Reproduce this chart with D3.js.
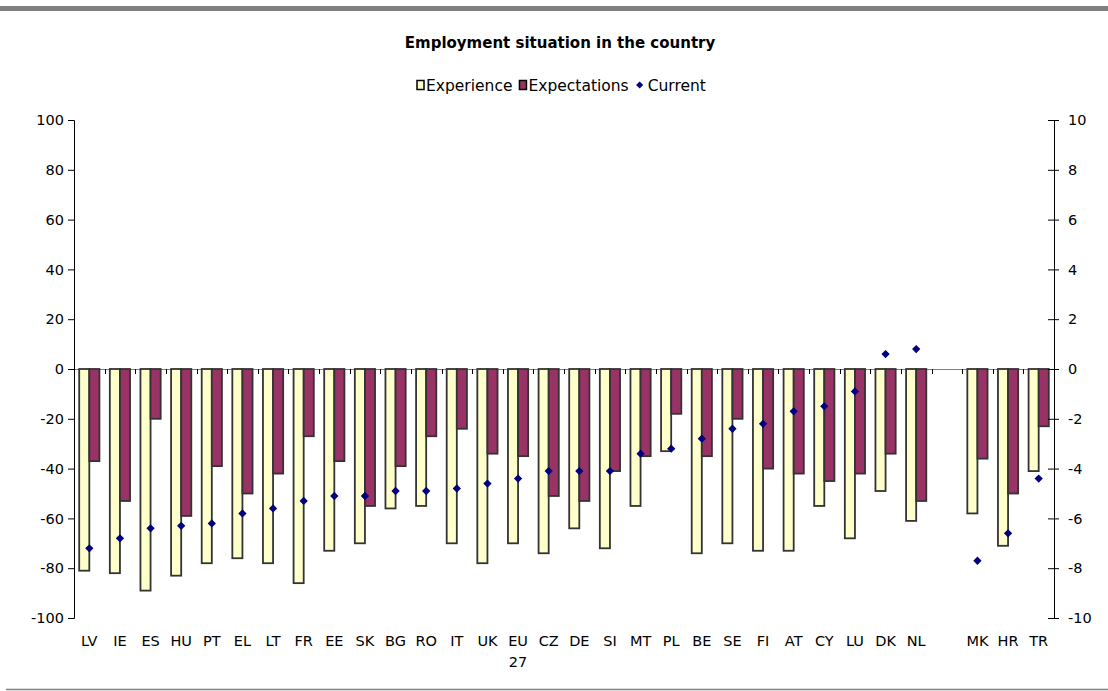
<!DOCTYPE html>
<html>
<head>
<meta charset="utf-8">
<script src="https://cdn.jsdelivr.net/npm/d3@7"></script>
<style>
  body { margin: 0; background: #fff; }
  text { font-family: "DejaVu Sans", Verdana, sans-serif; }
</style>
</head>
<body>
<div id="chart"></div>
<script>
var countries = ["LV","IE","ES","HU","PT","EL","LT","FR","EE","SK","BG","RO","IT","UK","EU27","CZ","DE","SI","MT","PL","BE","SE","FI","AT","CY","LU","DK","NL","","MK","HR","TR"];
var experience = [-81,-82,-89,-83,-78,-76,-78,-86,-73,-70,-56,-55,-70,-78,-70,-74,-64,-72,-55,-33,-74,-70,-73,-73,-55,-68,-49,-61,null,-58,-71,-41];
var expectations = [-37,-53,-20,-59,-39,-50,-42,-27,-37,-55,-39,-27,-24,-34,-35,-51,-53,-41,-35,-18,-35,-20,-40,-42,-45,-42,-34,-53,null,-36,-50,-23];
var current = [-7.2,-6.8,-6.4,-6.3,-6.2,-5.8,-5.6,-5.3,-5.1,-5.1,-4.9,-4.9,-4.8,-4.6,-4.4,-4.1,-4.1,-4.1,-3.4,-3.2,-2.8,-2.4,-2.2,-1.7,-1.5,-0.9,0.6,0.8,null,-7.7,-6.6,-4.4];
var leftTicks = [-100,-80,-60,-40,-20,0,20,40,60,80,100];
var rightTicks = [-10,-8,-6,-4,-2,0,2,4,6,8,10];

var width = 1108, height = 691;
var margin = {left: 74, right: 54, top: 120, bottom: 73};
var fs = "14.5px";

var svg = d3.select("#chart").append("svg").attr("width", width).attr("height", height);

// frame lines
svg.append("rect").attr("x", 0).attr("y", 6).attr("width", width).attr("height", 5).attr("fill", "#808080");
svg.append("line").attr("x1", 6).attr("x2", width).attr("y1", 689.5).attr("y2", 689.5)
    .attr("stroke", "#808080").attr("stroke-width", 1.5);

svg.append("text").attr("x", 560).attr("y", 48).attr("text-anchor", "middle")
    .style("font-size", "15px").style("font-weight", "bold").text("Employment situation in the country");

var x = d3.scaleBand().domain(d3.range(countries.length)).range([margin.left, width - margin.right]).paddingInner(0).paddingOuter(0);
var y = d3.scaleLinear().domain([-100, 100]).range([height - margin.bottom, margin.top]);
var y2 = d3.scaleLinear().domain([-10, 10]).range([height - margin.bottom, margin.top]);

var bw = x.bandwidth() * 0.33;
var hyphen = function(d) { return String(d); };

// zero line
svg.append("line").attr("x1", margin.left).attr("x2", width - margin.right)
    .attr("y1", Math.round(y(0)) + 0.5).attr("y2", Math.round(y(0)) + 0.5).attr("stroke", "#808080");
// category ticks
svg.append("g").selectAll("line").data(d3.range(1, countries.length))
  .enter().append("line")
    .attr("x1", function(d) { return Math.round(x(d)) + 0.5; })
    .attr("x2", function(d) { return Math.round(x(d)) + 0.5; })
    .attr("y1", y(0)).attr("y2", y(0) + 5).attr("stroke", "#000");

// bars
var g = svg.append("g");
countries.forEach(function(c, i) {
  if (experience[i] == null) return;
  var cx = x(i) + x.bandwidth() / 2;
  g.append("rect").attr("x", cx - bw).attr("y", y(0)).attr("width", bw)
      .attr("height", y(experience[i]) - y(0))
      .attr("fill", "#ffffcc").attr("stroke", "#333").attr("stroke-width", 1.8);
  g.append("rect").attr("x", cx).attr("y", y(0)).attr("width", bw)
      .attr("height", y(expectations[i]) - y(0))
      .attr("fill", "#993366").attr("stroke", "#333").attr("stroke-width", 1.8);
});

// current markers
svg.append("g").selectAll("path").data(current.map(function(v, i) { return {v: v, i: i}; }).filter(function(d) { return d.v != null; }))
  .enter().append("path")
    .attr("d", d3.symbol().type(d3.symbolDiamond2).size(44))
    .attr("transform", function(d) { return "translate(" + (x(d.i) + x.bandwidth() / 2) + "," + y2(d.v) + ")"; })
    .attr("fill", "#000080");

// left axis
var la = svg.append("g").attr("transform", "translate(" + margin.left + ",0)")
    .call(d3.axisLeft(y).tickValues(leftTicks).tickSize(6).tickPadding(4).tickFormat(hyphen));
la.selectAll("text").style("font-size", fs).attr("fill", "#000");
la.select(".domain").attr("stroke", "#000");

// right axis (ticks cross the line)
var ra = svg.append("g").attr("transform", "translate(" + (width - margin.right) + ",0)")
    .call(d3.axisRight(y2).tickValues(rightTicks).tickSize(5).tickPadding(9).tickFormat(hyphen));
ra.selectAll(".tick line").attr("x1", -6);
ra.selectAll("text").style("font-size", fs).attr("fill", "#000");
ra.select(".domain").attr("stroke", "#000");

// category labels
var lab = svg.append("g").selectAll("text").data(countries).enter().append("text")
    .attr("x", function(d, i) { return x(i) + x.bandwidth() / 2; })
    .attr("y", 646).attr("text-anchor", "middle").style("font-size", fs);
lab.each(function(d) {
  if (d === "EU27") {
    d3.select(this).append("tspan").attr("x", d3.select(this).attr("x")).text("EU");
    d3.select(this).append("tspan").attr("x", d3.select(this).attr("x")).attr("dy", 21).text("27");
  } else {
    d3.select(this).text(d);
  }
});

// legend
var legend = svg.append("g").attr("transform", "translate(416,91)");
var lfs = "15.5px";
var lx = 0;
[["Experience", "#ffffcc"], ["Expectations", "#993366"]].forEach(function(it) {
  legend.append("rect").attr("x", lx + 1).attr("y", -10.5).attr("width", 7).attr("height", 9)
      .attr("fill", it[1]).attr("stroke", "#000").attr("stroke-width", 1.5);
  var t = legend.append("text").attr("x", lx + 10).attr("y", 0).style("font-size", lfs).text(it[0]);
  lx += 10 + t.node().getComputedTextLength() + 6;
});
legend.append("path").attr("d", d3.symbol().type(d3.symbolDiamond2).size(32))
    .attr("transform", "translate(" + (lx + 5) + ",-6)").attr("fill", "#000080");
legend.append("text").attr("x", lx + 13).attr("y", 0).style("font-size", lfs).text("Current");
</script>
</body>
</html>
